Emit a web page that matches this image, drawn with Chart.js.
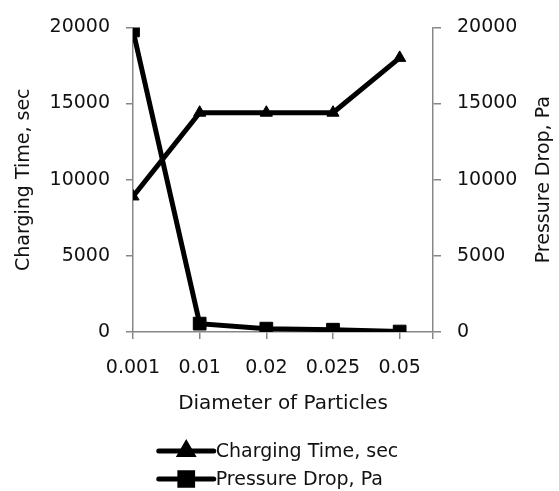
<!DOCTYPE html>
<html>
<head>
<meta charset="utf-8">
<script src="https://cdn.jsdelivr.net/npm/chart.js@4.4.1/dist/chart.umd.min.js"></script>
<style>
  html, body { margin: 0; padding: 0; background: #fff; }
  #wrap { width: 559px; height: 491px; }
</style>
</head>
<body>
<div id="wrap"><canvas id="chargeChart"></canvas></div>
<script>
const diameters = ["0.001", "0.01", "0.02", "0.025", "0.05"];
const chargingTime = [8900, 14400, 14400, 14400, 18000];
const pressureDrop = [19800, 550, 220, 150, 30];
const axisTicks = [0, 5000, 10000, 15000, 20000];

const FONT = "'DejaVu Sans'";
const FONT_SIZE = 19;
const TEXT = "#111";
const AXIS_GREY = "#878787";
const rightTitle = "Pressure Drop, Pa";

// right axis title reads bottom-to-top, plus a two-row legend at the bottom
const extras = {
  id: "extras",
  afterDraw(chart) {
    const ctx = chart.ctx;
    const area = chart.chartArea;
    ctx.save();
    ctx.font = FONT_SIZE + "px " + FONT;
    ctx.fillStyle = TEXT;
    ctx.textAlign = "center";
    ctx.textBaseline = "middle";

    ctx.save();
    ctx.translate(chart.width - 15, (area.top + area.bottom) / 2);
    ctx.rotate(-Math.PI / 2);
    ctx.fillText(rightTitle, 0, 0);
    ctx.restore();

    const items = chart.data.datasets;
    const lineLen = 55;
    const gap = 2;
    const widest = Math.max(...items.map(d => ctx.measureText(d.label).width));
    const x0 = (chart.width - (lineLen + gap + widest)) / 2 - 1;
    items.forEach((ds, i) => {
      const y = chart.height - 40 + i * 28;
      ctx.strokeStyle = "#000";
      ctx.lineWidth = 5;
      ctx.lineCap = "round";
      ctx.beginPath();
      ctx.moveTo(x0, y);
      ctx.lineTo(x0 + lineLen, y);
      ctx.stroke();
      Chart.helpers.drawPoint(ctx, {
        pointStyle: ds.pointStyle,
        radius: ds.pointRadius,
        borderWidth: 1
      }, x0 + lineLen / 2, y);
      ctx.fillStyle = "#000";
      ctx.fill();
      ctx.fillStyle = TEXT;
      ctx.textAlign = "left";
      ctx.fillText(ds.label, x0 + lineLen + gap, y + 1);
    });
    ctx.restore();
  }
};

const tickFont = { family: FONT, size: FONT_SIZE };

const ctx = document.getElementById("chargeChart").getContext("2d");

new Chart(ctx, {
  type: "line",
  data: {
    datasets: [
      {
        label: "Charging Time, sec",
        data: chargingTime.map((y, i) => ({ x: i, y })),
        yAxisID: "y",
        borderColor: "#000",
        backgroundColor: "#000",
        borderWidth: 5,
        pointStyle: "triangle",
        pointRadius: 7,
        pointBorderWidth: 1,
        tension: 0
      },
      {
        label: "Pressure Drop, Pa",
        data: pressureDrop.map((y, i) => ({ x: i, y })),
        yAxisID: "y1",
        borderColor: "#000",
        backgroundColor: "#000",
        borderWidth: 5,
        pointStyle: "rect",
        pointRadius: 9,
        pointBorderWidth: 1,
        tension: 0
      }
    ]
  },
  options: {
    responsive: true,
    maintainAspectRatio: false,
    animation: false,
    layout: { padding: { top: 25, left: 9, right: 0, bottom: 71 } },
    plugins: {
      legend: { display: false },
      tooltip: { enabled: false }
    },
    scales: {
      x: {
        type: "linear",
        min: 0,
        max: diameters.length - 0.5,
        afterBuildTicks: s => {
          s.ticks = diameters.map((_, i) => ({ value: i }))
            .concat([{ value: diameters.length - 0.5 }]);
        },
        ticks: {
          callback: v => diameters[v] ?? "",
          color: TEXT,
          font: tickFont,
          padding: 18,
          maxRotation: 0,
          autoSkip: false
        },
        grid: { drawOnChartArea: false, tickLength: 7, color: AXIS_GREY, lineWidth: 1.5 },
        border: { color: AXIS_GREY, width: 1.5 },
        title: {
          display: true,
          text: "Diameter of Particles",
          color: TEXT,
          font: { family: FONT, size: 20 },
          padding: { top: 8, bottom: 4 }
        },
        afterFit: s => { s.height = 88; }
      },
      y: {
        position: "left",
        min: 0,
        max: 20000,
        afterBuildTicks: s => { s.ticks = axisTicks.map(v => ({ value: v })); },
        ticks: {
          callback: v => String(v),
          color: TEXT,
          font: tickFont,
          padding: 16
        },
        grid: { drawOnChartArea: false, tickLength: 7, color: AXIS_GREY, lineWidth: 1.5 },
        border: { color: AXIS_GREY, width: 1.5 },
        title: {
          display: true,
          text: "Charging Time, sec",
          color: TEXT,
          font: tickFont,
          padding: { top: 4, bottom: 4 }
        },
        afterFit: s => { s.width = 124; }
      },
      y1: {
        position: "right",
        min: 0,
        max: 20000,
        afterBuildTicks: s => { s.ticks = axisTicks.map(v => ({ value: v })); },
        ticks: {
          callback: v => String(v),
          color: TEXT,
          font: tickFont,
          padding: 16
        },
        grid: { drawOnChartArea: false, tickLength: 8, color: AXIS_GREY, lineWidth: 1.5 },
        border: { color: AXIS_GREY, width: 1.5 },
        title: { display: false },
        afterFit: s => { s.width = 126; }
      }
    }
  },
  plugins: [extras]
});
</script>
</body>
</html>
